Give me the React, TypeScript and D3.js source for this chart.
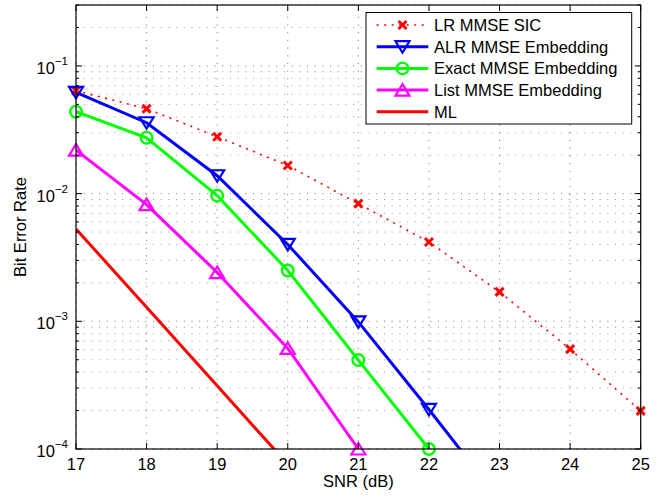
import React from 'react';
import * as d3 from 'd3';

const snr = [17, 18, 19, 20, 21, 22, 23, 24, 25];
const lrMmseSic = [0.064, 0.0462, 0.0279, 0.0166, 0.00834, 0.00418, 0.0017, 0.000605, 0.000199];
const alrSnr = [17, 18, 19, 20, 21, 22, 23];
const alrMmseEmb = [0.062, 0.0359, 0.0138, 0.004, 0.00099, 0.000204, 0.00004];
const exactSnr = [17, 18, 19, 20, 21, 22];
const exactMmseEmb = [0.0438, 0.0274, 0.00964, 0.0025, 0.000497, 0.0001];
const listSnr = [17, 18, 19, 20, 21];
const listMmseEmb = [0.0219, 0.0082, 0.00241, 0.000614, 0.0001];
const mlSnr = [17, 18, 19, 20];
const mlBer = [0.00528, 0.00129, 0.000313, 0.000076];

const xTicks = [17, 18, 19, 20, 21, 22, 23, 24, 25];
const yTicks = [1e-4, 1e-3, 1e-2, 1e-1];
const yTickExps = ['−4', '−3', '−2', '−1'];
const legendLabels = ['LR MMSE SIC', 'ALR MMSE Embedding', 'Exact MMSE Embedding', 'List MMSE Embedding', 'ML'];

const W = 667, H = 498;
const L = 76, R = 640.7, T = 5, B = 449;
const FONT = '"Liberation Sans", Arial, Helvetica, sans-serif';

type Kind = 'x' | 'v' | 'o' | '^' | 'none';

function Marker({ kind, cx, cy, color }: { kind: Kind; cx: number; cy: number; color: string }) {
  if (kind === 'x') {
    return (
      <g stroke={color} strokeWidth={3} strokeLinecap="butt">
        <line x1={cx - 4} y1={cy - 4} x2={cx + 4} y2={cy + 4} />
        <line x1={cx - 4} y1={cy + 4} x2={cx + 4} y2={cy - 4} />
      </g>
    );
  }
  if (kind === 'v') {
    return <path d={`M${cx - 7},${cy - 5.5}L${cx + 7},${cy - 5.5}L${cx},${cy + 6}Z`} fill="none" stroke={color} strokeWidth={2.2} strokeLinejoin="miter" />;
  }
  if (kind === '^') {
    return <path d={`M${cx - 7},${cy + 5.5}L${cx + 7},${cy + 5.5}L${cx},${cy - 6}Z`} fill="none" stroke={color} strokeWidth={2.2} strokeLinejoin="miter" />;
  }
  if (kind === 'o') {
    return <circle cx={cx} cy={cy} r={5.8} fill="none" stroke={color} strokeWidth={2.4} />;
  }
  return null;
}

export default function App() {
  const x = d3.scaleLinear().domain([17, 25]).range([L, R]);
  const y = d3.scaleLog().domain([1e-4, 0.3]).range([B, T]);

  const series = [
    { xs: snr, ys: lrMmseSic, color: '#ff0000', dash: '2,5.5', width: 1.6, marker: 'x' as Kind },
    { xs: alrSnr, ys: alrMmseEmb, color: '#0000ff', dash: undefined, width: 3, marker: 'v' as Kind },
    { xs: exactSnr, ys: exactMmseEmb, color: '#00ff00', dash: undefined, width: 3, marker: 'o' as Kind },
    { xs: listSnr, ys: listMmseEmb, color: '#ff00ff', dash: undefined, width: 3, marker: '^' as Kind },
    { xs: mlSnr, ys: mlBer, color: '#ff0000', dash: undefined, width: 3, marker: 'none' as Kind },
  ];

  const line = d3.line<[number, number]>().x((d) => x(d[0])).y((d) => y(d[1]));

  const minor: number[] = [];
  for (let e = -4; e <= -1; e++) {
    for (let m = 2; m <= 9; m++) {
      const v = m * Math.pow(10, e);
      if (v <= 0.3 + 1e-9) minor.push(v);
    }
  }

  const gridStyle = { stroke: '#222', strokeWidth: 0.9, strokeDasharray: '1,6.7', opacity: 0.7 };

  const legX = 366, legY = 12.5, legW = 265.7, legH = 111.5;
  const rowY = (i: number) => 25 + i * 21.7;

  return (
    <svg width={W} height={H} style={{ position: 'absolute', left: 0, top: 0, background: '#fff' }} fontFamily={FONT}>
      <defs>
        <clipPath id="plotClip">
          <rect x={L} y={T} width={R - L} height={B - T} />
        </clipPath>
      </defs>
      <rect x={0} y={0} width={W} height={H} fill="#fff" />
      <rect x={L} y={T} width={R - L} height={B - T} fill="#fff" />

      <g>
        {xTicks.map((t) => (
          <line key={'gx' + t} x1={x(t)} x2={x(t)} y1={B} y2={T} {...gridStyle} />
        ))}
        {yTicks.map((t) => (
          <line key={'gy' + t} x1={L} x2={R} y1={y(t)} y2={y(t)} {...gridStyle} />
        ))}
        {minor.map((t) => (
          <line key={'gm' + t} x1={L} x2={R} y1={y(t)} y2={y(t)} {...gridStyle} opacity={0.5} />
        ))}
      </g>

      <g clipPath="url(#plotClip)">
        {series.map((s, i) => (
          <path
            key={'s' + i}
            d={line(s.xs.map((v, j) => [v, s.ys[j]] as [number, number])) || ''}
            fill="none"
            stroke={s.color}
            strokeWidth={s.width}
            strokeDasharray={s.dash}
          />
        ))}
      </g>
      {series.map((s, i) => (
        <g key={'m' + i}>
          {s.xs.map((v, j) =>
            s.ys[j] >= 0.99e-4 && s.marker !== 'none' ? (
              <Marker key={j} kind={s.marker} cx={x(v)} cy={y(s.ys[j])} color={s.color} />
            ) : null
          )}
        </g>
      ))}

      <rect x={L} y={T} width={R - L} height={B - T} fill="none" stroke="#000" strokeWidth={1.2} />

      <g stroke="#000" strokeWidth={1}>
        {xTicks.map((t) => (
          <g key={'tx' + t}>
            <line x1={x(t)} x2={x(t)} y1={B} y2={B - 6} />
            <line x1={x(t)} x2={x(t)} y1={T} y2={T + 6} />
          </g>
        ))}
        {yTicks.map((t) => (
          <g key={'ty' + t}>
            <line x1={L} x2={L + 6} y1={y(t)} y2={y(t)} />
            <line x1={R} x2={R - 6} y1={y(t)} y2={y(t)} />
          </g>
        ))}
        {minor.map((t) => (
          <g key={'tm' + t}>
            <line x1={L} x2={L + 3} y1={y(t)} y2={y(t)} />
            <line x1={R} x2={R - 3} y1={y(t)} y2={y(t)} />
          </g>
        ))}
      </g>

      {xTicks.map((t) => (
        <text key={'lx' + t} x={x(t)} y={470} textAnchor="middle" fontSize={16.5} fill="#000">
          {t}
        </text>
      ))}
      {yTicks.map((t, i) => (
        <text key={'ly' + t} x={68} y={y(t) + 8} textAnchor="end" fontSize={16.5} fill="#000">
          10
          <tspan fontSize={11.5} dy={-9}>
            {yTickExps[i]}
          </tspan>
        </text>
      ))}

      <text x={(L + R) / 2} y={487} textAnchor="middle" fontSize={16.5} fill="#000">
        SNR (dB)
      </text>
      <text transform={`translate(26,${(T + B) / 2}) rotate(-90)`} textAnchor="middle" fontSize={16.5} fill="#000">
        Bit Error Rate
      </text>

      <rect x={legX} y={legY} width={legW} height={legH} fill="#fff" stroke="#000" strokeWidth={1} />
      {series.map((s, i) => (
        <g key={'lg' + i}>
          <line x1={376.7} x2={428.3} y1={rowY(i)} y2={rowY(i)} stroke={s.color} strokeWidth={s.width} strokeDasharray={s.dash} />
          {s.marker !== 'none' && <Marker kind={s.marker} cx={402.5} cy={rowY(i)} color={s.color} />}
          <text x={434} y={rowY(i) + 6} fontSize={16.5} fill="#000">
            {legendLabels[i]}
          </text>
        </g>
      ))}
    </svg>
  );
}
